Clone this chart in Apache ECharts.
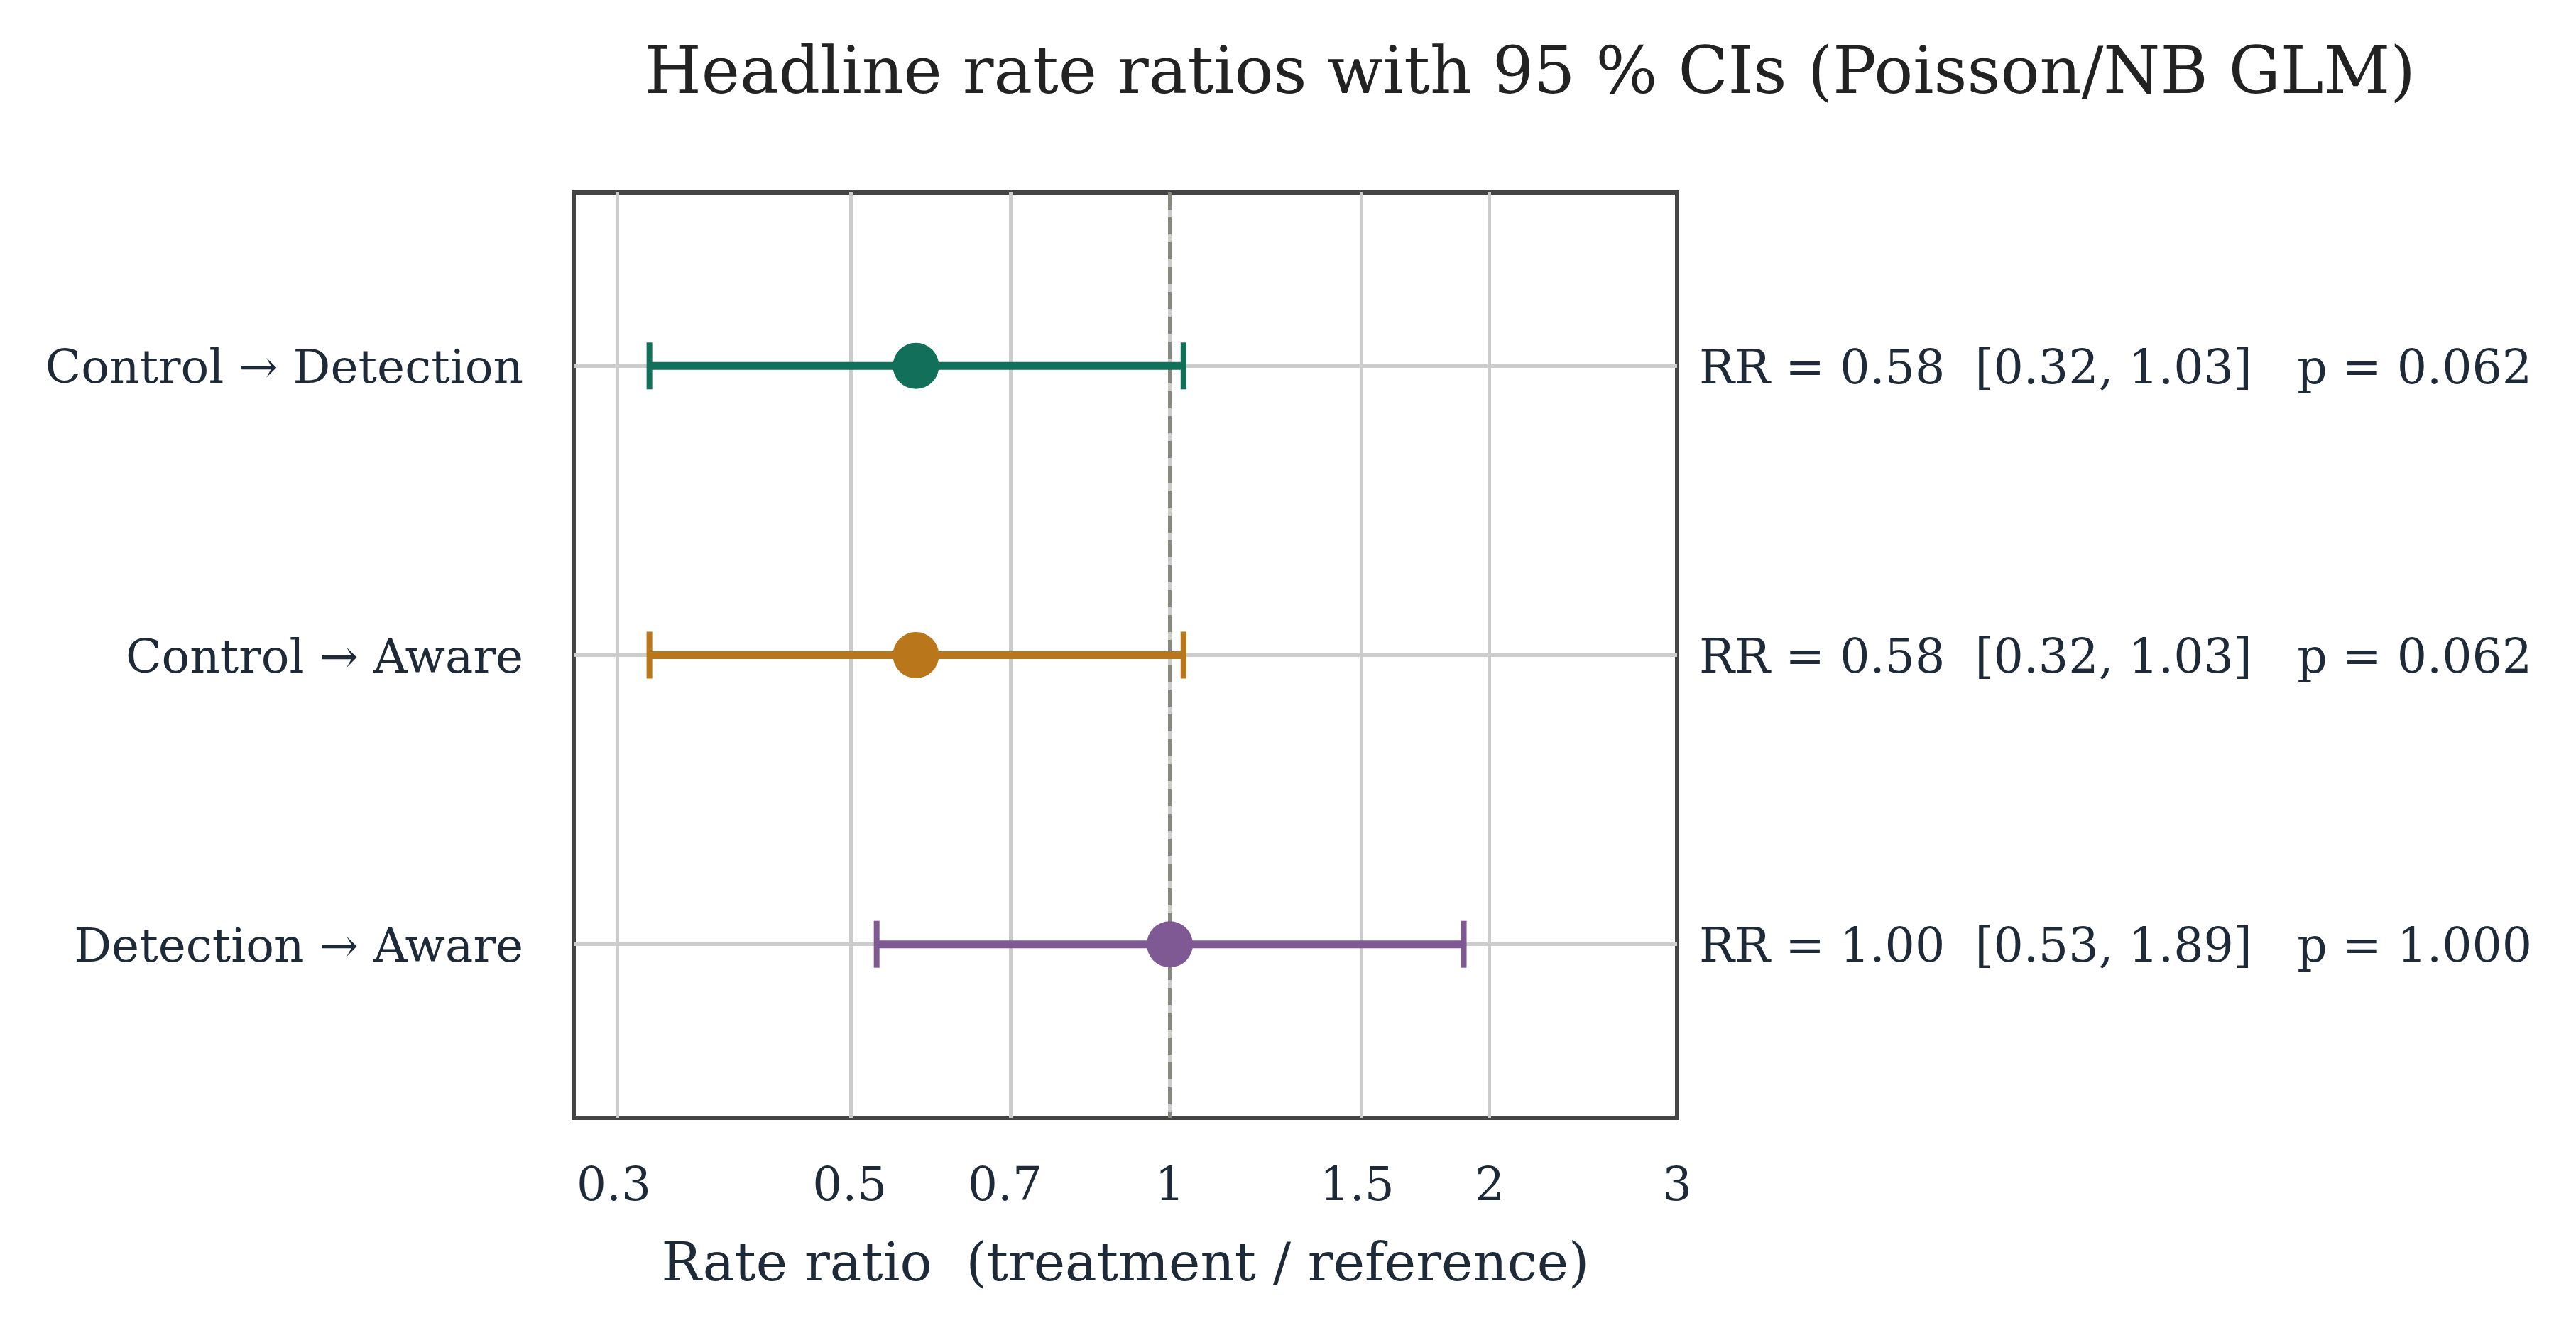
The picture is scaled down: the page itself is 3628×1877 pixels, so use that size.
<!DOCTYPE html>
<html>
<head>
<meta charset="utf-8">
<script src="https://cdn.jsdelivr.net/npm/echarts@6/dist/echarts.min.js"></script>
<style>
  html, body { margin: 0; padding: 0; background: #fff; }
  #chart { width: 3628px; height: 1877px; }
</style>
</head>
<body>
<div id="chart"></div>
<script>
// comparisons, top to bottom
var contrasts = ["Control \u2192 Detection", "Control \u2192 Aware", "Detection \u2192 Aware"];
var rateRatio = [0.577, 0.577, 1.00];
var ciLow = [0.324, 0.324, 0.53];
var ciHigh = [1.03, 1.03, 1.89];
var pValue = ["0.062", "0.062", "1.000"];
var xTicks = [0.3, 0.5, 0.7, 1, 1.5, 2, 3];

var colors = ["#12705a", "#b9761b", "#7f5994"];
var textColor = "#1f2a38";
var font = "DejaVu Serif";

// log scale: axis works in log10 space
function lg(v) { return Math.log10(v); }
var rowIdx = contrasts.map(function (c, i) { return i; });

var annotations = rowIdx.map(function (i) {
  return "RR = " + rateRatio[i].toFixed(2) + "  [" + ciLow[i].toFixed(2) + ", " +
    ciHigh[i].toFixed(2) + "]   p = " + pValue[i];
});

var chart = echarts.init(document.getElementById("chart"), null, { renderer: "canvas" });

var option = {
  backgroundColor: "#fff",
  animation: false,
  title: {
    text: "Headline rate ratios with 95 % CIs (Poisson/NB GLM)",
    left: 2150,
    textAlign: "center",
    top: 56,
    textStyle: { fontFamily: font, fontSize: 91.5, fontWeight: "normal", color: "#222" },
  },
  grid: {
    left: 808,
    top: 271,
    right: 1266,
    bottom: 303,
    show: true,
    borderColor: "#444",
    borderWidth: 6,
    backgroundColor: "transparent",
  },
  xAxis: {
    type: "value",
    min: lg(0.275),
    max: lg(3),
    axisLine: { show: false },
    axisTick: { show: false },
    splitLine: { show: false },
    axisLabel: {
      customValues: xTicks.map(lg),
      formatter: function (v) {
        return String(Math.round(Math.pow(10, v) * 100) / 100);
      },
      fontFamily: font,
      fontSize: 66,
      color: textColor,
      margin: 66,
    },
    name: "Rate ratio  (treatment / reference)",
    nameLocation: "middle",
    nameGap: 172,
    nameTextStyle: { fontFamily: font, fontSize: 75, color: textColor },
  },
  yAxis: [
    {
      type: "value",
      inverse: true,
      min: -0.6,
      max: 2.6,
      axisLine: { show: false },
      axisTick: { show: false },
      splitLine: { show: false },
      axisLabel: {
        customValues: rowIdx,
        formatter: function (v) { return "{t|" + contrasts[v] + "}"; },
        rich: { t: { fontFamily: font, fontSize: 66, color: textColor, padding: [14, 0, 0, 0] } },
        fontFamily: font,
        fontSize: 66,
        color: textColor,
        margin: 71,
      },
    },
    {
      type: "value",
      position: "right",
      inverse: true,
      min: -0.6,
      max: 2.6,
      axisLine: { show: false },
      axisTick: { show: false },
      splitLine: { show: false },
      axisLabel: {
        customValues: rowIdx,
        formatter: function (v) { return "{t|" + annotations[v] + "}"; },
        rich: { t: { fontFamily: font, fontSize: 66.5, color: textColor, padding: [14, 0, 0, 0] } },
        fontFamily: font,
        fontSize: 66.5,
        color: textColor,
        margin: 31,
      },
    },
  ],
  series: [
    {
      // grid lines
      type: "line",
      data: [],
      silent: true,
      z: 1,
      markLine: {
        z: 1,
        silent: true,
        symbol: "none",
        label: { show: false },
        lineStyle: { color: "#cccccc", width: 5, type: "solid" },
        data: xTicks.map(function (t) { return { xAxis: lg(t) }; })
          .concat(rowIdx.map(function (i) { return { yAxis: i }; })),
      },
    },
    {
      // reference line at RR = 1
      type: "line",
      data: [],
      silent: true,
      z: 2,
      markLine: {
        z: 2,
        silent: true,
        symbol: "none",
        label: { show: false },
        lineStyle: { color: "#88887f", width: 5, type: [24, 11] },
        data: [{ xAxis: lg(1) }],
      },
    },
    {
      type: "custom",
      z: 3,
      silent: true,
      data: rowIdx.map(function (i) { return [lg(ciLow[i]), lg(ciHigh[i]), i]; }),
      encode: { x: [0, 1], y: 2 },
      renderItem: function (params, api) {
        var lo = api.coord([api.value(0), api.value(2)]);
        var hi = api.coord([api.value(1), api.value(2)]);
        var c = colors[params.dataIndex];
        var cap = 33, bw = 11, cw = 8;
        return {
          type: "group",
          children: [
            { type: "rect", shape: { x: lo[0], y: lo[1] - bw / 2, width: hi[0] - lo[0], height: bw },
              style: { fill: c } },
            { type: "rect", shape: { x: lo[0] - cw / 2, y: lo[1] - cap, width: cw, height: cap * 2 },
              style: { fill: c } },
            { type: "rect", shape: { x: hi[0] - cw / 2, y: hi[1] - cap, width: cw, height: cap * 2 },
              style: { fill: c } },
          ],
        };
      },
    },
    {
      type: "scatter",
      z: 4,
      silent: true,
      symbol: "circle",
      symbolSize: 65,
      data: rowIdx.map(function (i) {
        return { value: [lg(rateRatio[i]), i], itemStyle: { color: colors[i], opacity: 1 } };
      }),
    },
  ],
};

chart.setOption(option);
</script>
</body>
</html>
